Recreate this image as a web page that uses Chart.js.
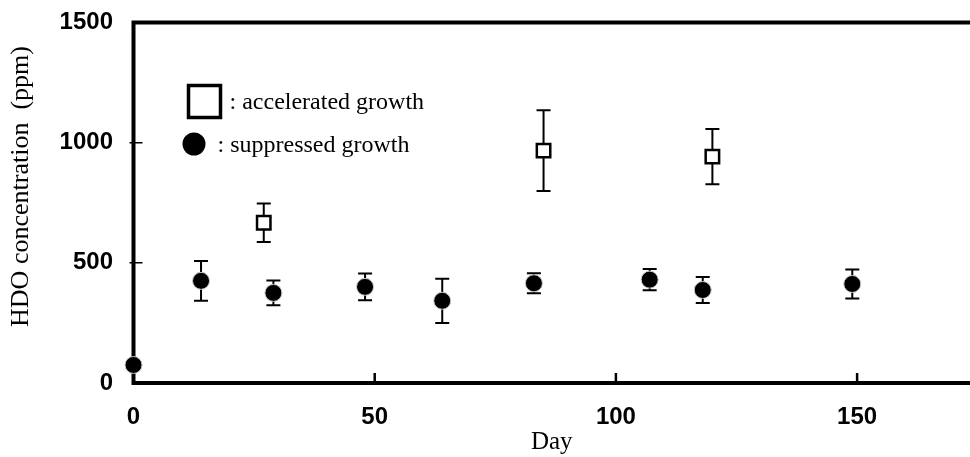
<!DOCTYPE html>
<html>
<head>
<meta charset="utf-8">
<script src="https://cdn.jsdelivr.net/npm/chart.js@4/dist/chart.umd.min.js"></script>
<style>
html, body { margin: 0; padding: 0; background: #fff; overflow: hidden; }
.chart { width: 970px; height: 457px; }
</style>
</head>
<body>
<div class="chart"><canvas id="hdo-chart" width="970" height="457"></canvas></div>
<script>
// Data
const seriesNames = ["accelerated growth", "suppressed growth"];
const acceleratedDays = [27, 85, 120];
const acceleratedHdo = [667, 967, 942];
const acceleratedError = [80, 168, 115];
const suppressedDays = [0, 14, 29, 48, 64, 83, 107, 118, 149];
const suppressedHdo = [75, 425, 375, 400, 342, 415, 430, 387, 412];
const suppressedError = [0, 83, 52, 56, 92, 42, 44, 54, 60];
const xTicks = [0, 50, 100, 150];
const yTicks = [0, 500, 1000, 1500];
const xTitle = "Day";
const yTitle = "HDO concentration\u00a0\u00a0(ppm)";

const SERIF = "'Liberation Serif', 'Times New Roman', serif";
const SANS = "'Liberation Sans', Arial, sans-serif";

// Function
const toPoints = (xs, ys) => xs.map((x, i) => ({x: x, y: ys[i]}));

const noPadding = (scale) => {
    scale.paddingTop = 0;
    scale.paddingBottom = 0;
    scale.paddingLeft = 0;
    scale.paddingRight = 0;
};

// Plugins
const frame = {
    id: "frame",
    beforeDatasetsDraw: (chart) => {
        let {ctx, chartArea} = chart;
        let {left, top, right, bottom} = chartArea;
        ctx.save();
        ctx.strokeStyle = "#000";
        ctx.lineWidth = 4;
        ctx.beginPath();
        ctx.moveTo(right, top);
        ctx.lineTo(left, top);
        ctx.lineTo(left, bottom);
        ctx.lineTo(right, bottom);
        ctx.stroke();
        // inner ticks
        ctx.lineWidth = 2.5;
        ctx.beginPath();
        chart.scales.x.ticks.forEach(({value}) => {
            if (value === 0) return;
            let x = chart.scales.x.getPixelForValue(value);
            ctx.moveTo(x, bottom);
            ctx.lineTo(x, bottom - 10);
        });
        ctx.stroke();
        ctx.lineWidth = 1.5;
        ctx.beginPath();
        chart.scales.y.ticks.forEach(({value}) => {
            if (value === 0 || value === 1500) return;
            let y = chart.scales.y.getPixelForValue(value);
            ctx.moveTo(left - 4, y);
            ctx.lineTo(left + 9, y);
        });
        ctx.stroke();
        ctx.restore();
    }
};

const errorBars = {
    id: "errorBars",
    beforeDatasetsDraw: (chart) => {
        let ctx = chart.ctx;
        let yScale = chart.scales.y;
        chart.data.datasets.forEach((dataset, i) => {
            let meta = chart.getDatasetMeta(i);
            ctx.save();
            ctx.strokeStyle = "#000";
            ctx.lineWidth = 2;
            meta.data.forEach((point, j) => {
                let err = dataset.errors[j];
                if (!err) return;
                let value = dataset.data[j].y;
                let top = yScale.getPixelForValue(value + err);
                let bottom = yScale.getPixelForValue(value - err);
                ctx.beginPath();
                ctx.moveTo(point.x, top);
                ctx.lineTo(point.x, bottom);
                ctx.moveTo(point.x - 7, top);
                ctx.lineTo(point.x + 7, top);
                ctx.moveTo(point.x - 7, bottom);
                ctx.lineTo(point.x + 7, bottom);
                ctx.stroke();
            });
            ctx.restore();
        });
    }
};

const keyBox = {
    id: "keyBox",
    afterDatasetsDraw: (chart) => {
        let {ctx, chartArea} = chart;
        let x0 = chartArea.left;
        let y0 = chartArea.top;
        ctx.save();
        // square
        ctx.strokeStyle = "#000";
        ctx.lineWidth = 3.5;
        ctx.strokeRect(x0 + 55, y0 + 63, 32, 32);
        // circle
        ctx.fillStyle = "#000";
        ctx.beginPath();
        ctx.arc(x0 + 60.5, y0 + 121.5, 11.5, 0, Math.PI * 2);
        ctx.fill();
        // text
        ctx.font = "24px " + SERIF;
        ctx.textBaseline = "middle";
        ctx.fillText(": " + seriesNames[0], x0 + 96, y0 + 80);
        ctx.fillText(": " + seriesNames[1], x0 + 84, y0 + 123);
        ctx.restore();
    }
};

// Chart
new Chart(document.getElementById("hdo-chart"), {
    type: "scatter",
    data: {
        datasets: [
            {
                label: seriesNames[0],
                data: toPoints(acceleratedDays, acceleratedHdo),
                errors: acceleratedError,
                pointStyle: "rect",
                pointRadius: 9.5,
                backgroundColor: "#fff",
                borderColor: "#000",
                borderWidth: 2.5,
                clip: false
            },
            {
                label: seriesNames[1],
                data: toPoints(suppressedDays, suppressedHdo),
                errors: suppressedError,
                pointStyle: "circle",
                pointRadius: 8.5,
                backgroundColor: "#000",
                borderColor: "#c8c8c8",
                borderWidth: 1,
                clip: false
            }
        ]
    },
    options: {
        responsive: false,
        animation: false,
        devicePixelRatio: 1,
        layout: {autoPadding: false, padding: {top: 22.5, right: 0, bottom: 0, left: 0}},
        plugins: {
            legend: {display: false},
            tooltip: {enabled: false}
        },
        scales: {
            x: {
                type: "linear",
                min: 0,
                max: 173.4,
                afterFit: (scale) => { scale.height = 74; noPadding(scale); },
                afterBuildTicks: (scale) => { scale.ticks = xTicks.map((v) => ({value: v})); },
                grid: {display: false, drawTicks: false},
                border: {display: false},
                ticks: {
                    color: "#000",
                    font: {family: SANS, size: 24, weight: "bold"},
                    padding: 20,
                    maxRotation: 0,
                    autoSkip: false,
                    callback: (value) => String(value)
                },
                title: {
                    display: true,
                    text: xTitle,
                    color: "#000",
                    font: {family: SERIF, size: 25},
                    padding: 0
                }
            },
            y: {
                min: 0,
                max: 1500,
                afterFit: (scale) => { scale.width = 133.5; noPadding(scale); },
                afterBuildTicks: (scale) => { scale.ticks = yTicks.map((v) => ({value: v})); },
                grid: {display: false, drawTicks: false},
                border: {display: false},
                ticks: {
                    color: "#000",
                    font: {family: SANS, size: 24, weight: "bold"},
                    padding: 20.5,
                    callback: (value) => String(value)
                },
                title: {
                    display: true,
                    // leading spaces push the rotated title up a little, as in the original
                    text: "\u00a0".repeat(5) + yTitle,
                    color: "#000",
                    font: {family: SERIF, size: 26},
                    padding: {top: 6, bottom: 0}
                }
            }
        }
    },
    plugins: [frame, errorBars, keyBox]
});
</script>
</body>
</html>
